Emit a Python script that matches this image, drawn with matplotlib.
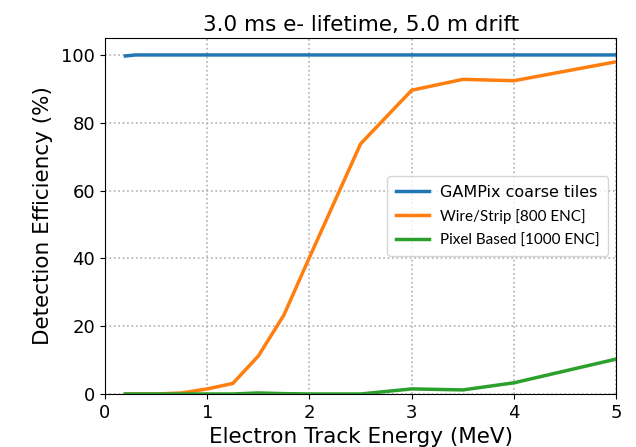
import matplotlib
matplotlib.use("Agg")
import matplotlib.pyplot as plt

energy_blue = [0.2, 0.3, 0.5, 0.75, 1.0, 1.25, 1.5, 1.75, 2.0, 2.5, 3.0, 3.5, 4.0, 5.0]
gampix = [99.7, 100, 100, 100, 100, 100, 100, 100, 100, 100, 100, 100, 100, 100]

energy = [0.2, 0.5, 0.75, 1.0, 1.25, 1.5, 1.75, 2.0, 2.5, 3.0, 3.5, 4.0, 5.0]
wire = [0.0, 0.0, 0.3, 1.5, 3.1, 11.2, 23.3, 40.3, 73.8, 89.6, 92.8, 92.4, 98.0]
pixel = [0.0, 0.0, 0.0, 0.0, 0.0, 0.3, 0.1, 0.0, 0.0, 1.5, 1.2, 3.3, 10.3]

labels = ["GAMPix coarse tiles", "Wire/Strip [800 ENC]", "Pixel Based [1000 ENC]"]

fig = plt.figure(figsize=(6.36, 4.47), dpi=100)
ax = fig.add_axes([0.165, 0.1186, 0.804, 0.7964])
ax.plot(energy_blue, gampix, color="#1f77b4", lw=2.5, label=labels[0])
ax.plot(energy, wire, color="#ff7f0e", lw=2.5, label=labels[1])
ax.plot(energy, pixel, color="#2ca02c", lw=2.5, label=labels[2])
ax.set_xlim(0, 5)
ax.set_ylim(0, 105)
ax.set_xticks([0, 1, 2, 3, 4, 5])
ax.set_yticks([0, 20, 40, 60, 80, 100])
ax.grid(True, linestyle=":", color="#b0b0b0", lw=1.2)
ax.tick_params(labelsize=13)
ax.set_xlabel("Electron Track Energy (MeV)", fontsize=15.5, labelpad=4)
ax.set_ylabel("Detection Efficiency (%)", fontsize=15.5, labelpad=6)
ax.set_title("3.0 ms e- lifetime, 5.0 m drift", fontsize=15.5, pad=5)
leg = ax.legend(loc="center right", fontsize=12, handlelength=2.0, handletextpad=0.65,
                labelspacing=0.55, borderpad=0.5)
texts = leg.get_texts()
texts[0].set_fontsize(11.5)
for t in texts[1:]:
    t.set_fontfamily("Lato")
    t.set_fontsize(11)
fig.savefig("out.png", dpi=100)
